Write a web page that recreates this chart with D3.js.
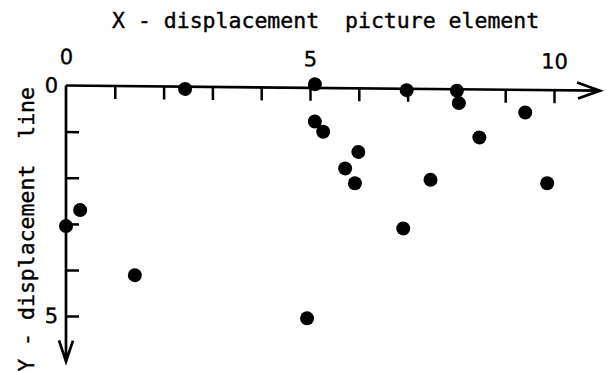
<!DOCTYPE html>
<html>
<head>
<meta charset="utf-8">
<script src="https://cdn.jsdelivr.net/npm/d3@7"></script>
<style>
  html, body { margin: 0; padding: 0; background: #fff; }
  svg { display: block; }
  text { font-family: "DejaVu Sans Mono", "Liberation Mono", monospace; fill: #000; stroke: #000; stroke-width: 0.4px; white-space: pre; }
  .num text { font-family: "DejaVu Sans", sans-serif; }
</style>
</head>
<body>
<script>
// Displacement of each match: x in picture elements, y in lines.
const xDisp = [0, 0.29, 1.41, 2.44, 4.94, 5.10, 5.10, 5.27, 5.72, 5.99, 5.92, 6.98, 6.91, 7.47, 8.01, 8.05, 8.47, 9.41, 9.86];
const yDisp = [3.05, 2.70, 4.10, 0.05, 5.00, -0.08, 0.73, 0.95, 1.74, 1.38, 2.06, 0.03, 3.03, 1.97, 0.03, 0.30, 1.04, 0.49, 2.02];

const xTickMarks = [1, 2, 3, 4, 5, 6, 7, 8, 9, 10];
const xTickLabels = [0, 5, 10];
const yTickMarks = [1, 2, 3, 4, 5];
const yTickLabels = [0, 5];

const xTitle = "X - displacement  picture element";
const yTitle = "Y - displacement  line";

const W = 607, H = 371;
const svg = d3.select("body").append("svg").attr("width", W).attr("height", H);

const x = d3.scaleLinear().domain([0, 10]).range([0, 488]);
const y = d3.scaleLinear().domain([0, 5]).range([0, 230.5]);

// plot frame: origin at the top-left corner, x axis runs slightly downhill
const g = svg.append("g").attr("transform", "translate(66,85.5) skewY(0.55)");

const ink = "#000";
const fontSize = 21.5;
const numSize = 21;
const intFmt = d3.format("d");

// tick marks below the x axis
const xMarks = g.append("g").call(d3.axisBottom(x).tickValues(xTickMarks).tickSize(13).tickFormat(""));
xMarks.select(".domain").remove();
xMarks.selectAll(".tick line").attr("stroke", ink).attr("stroke-width", 2.5);

// numbers above the x axis
const xLabels = g.append("g").attr("class", "num")
  .call(d3.axisTop(x).tickValues(xTickLabels).tickFormat(intFmt).tickSize(0).tickPadding(21.5));
xLabels.select(".domain").remove();
xLabels.attr("font-family", null).attr("font-size", null);
xLabels.selectAll("text").style("font-size", numSize + "px");

// tick marks to the right of the y axis
const yMarks = g.append("g").call(d3.axisRight(y).tickValues(yTickMarks).tickSize(13).tickFormat(""));
yMarks.select(".domain").remove();
yMarks.selectAll(".tick line").attr("stroke", ink).attr("stroke-width", 2.5);

// numbers left of the y axis
const yLabels = g.append("g").attr("class", "num")
  .call(d3.axisLeft(y).tickValues(yTickLabels).tickFormat(intFmt).tickSize(0).tickPadding(8));
yLabels.select(".domain").remove();
yLabels.attr("font-family", null).attr("font-size", null);
yLabels.selectAll("text").style("font-size", numSize + "px");

// axis lines with open arrow heads
const xEnd = 534, yEnd = 276;
g.append("path")
  .attr("d", `M0,0H${xEnd}M${xEnd - 23},-8L${xEnd},0L${xEnd - 22},8`)
  .attr("fill", "none").attr("stroke", ink).attr("stroke-width", 2.7)
  .attr("stroke-linejoin", "miter").attr("stroke-linecap", "butt");
g.append("path")
  .attr("d", `M0,0V${yEnd}M-7,${yEnd - 21}L0,${yEnd}L7,${yEnd - 21}`)
  .attr("fill", "none").attr("stroke", ink).attr("stroke-width", 2.7)
  .attr("stroke-linejoin", "miter").attr("stroke-linecap", "butt");

// data points
g.append("g").selectAll("circle")
  .data(d3.range(xDisp.length))
  .join("circle")
  .attr("cx", i => x(xDisp[i]))
  .attr("cy", i => y(yDisp[i]))
  .attr("r", 7)
  .attr("fill", ink);

// axis titles
svg.append("text")
  .attr("x", 112).attr("y", 28.3)
  .style("font-size", fontSize + "px")
  .text(xTitle);

svg.append("text")
  .attr("transform", "translate(33.5,87) rotate(-90)")
  .attr("text-anchor", "end")
  .style("font-size", fontSize + "px")
  .text(yTitle);
</script>
</body>
</html>
